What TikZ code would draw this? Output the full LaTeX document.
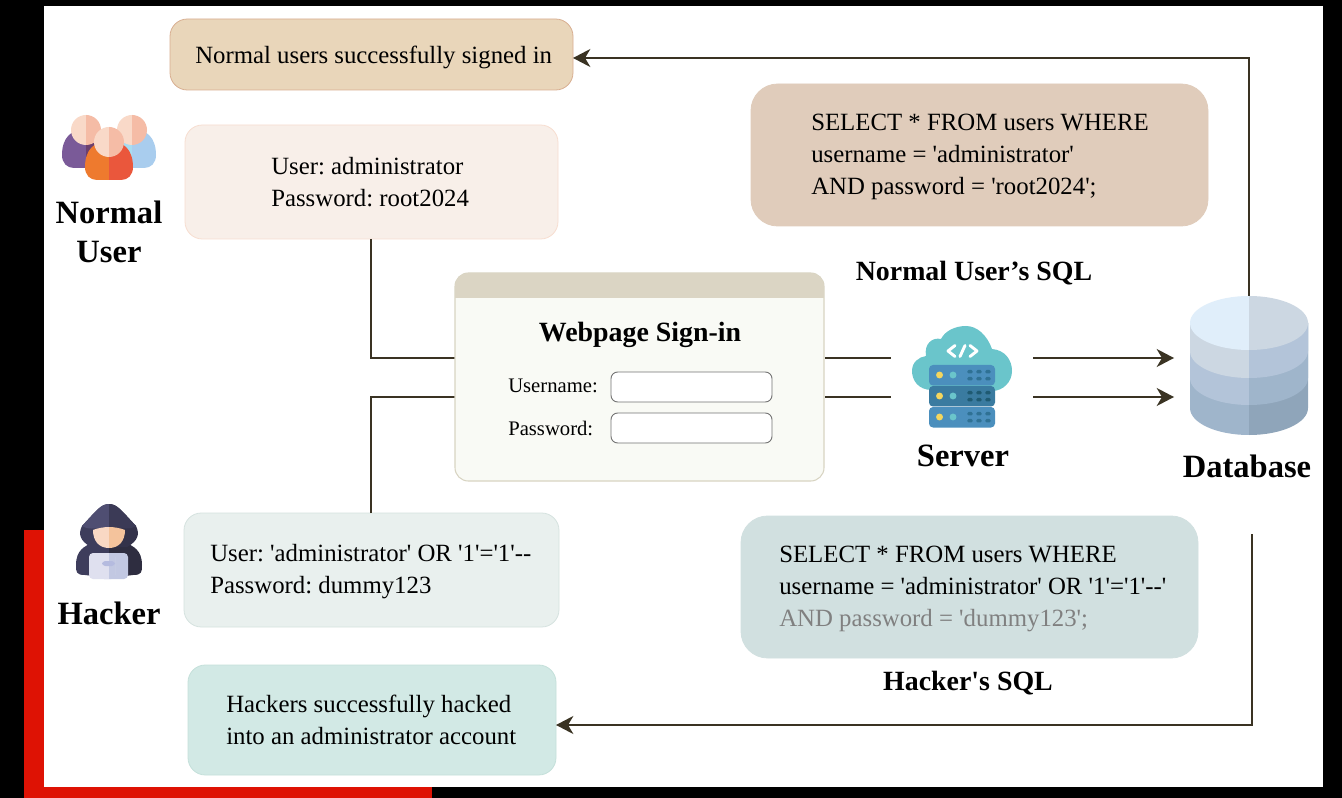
\documentclass[tikz,border=0pt]{standalone}
\usepackage{fontspec}
\setmainfont{Liberation Serif}
\newfontfamily\plainf{Liberation Serif}
\usetikzlibrary{arrows.meta}
\frenchspacing
\definecolor{ink}{HTML}{3A3323}
\definecolor{redb}{HTML}{DE1204}
\makeatletter
\def\hc#1{\definecolor{c#1}{HTML}{#1}}
\@for\tmp:={E9D6BA,D8AE90,F7DDD0,F8EFE9,E0CCBB,D5E2DF,E9F0EE,D1E0E0,C4E0DA,D2E9E5,D8D4C2,F9FAF5,DBD5C4,7A5A98,6B3F6E,A8DCF0,A9CDEE,F9D9C8,F5BCA6,EE7A2E,EA573C,4F4E72,3B3A56,33324A,3E3D5C,2E2D40,F9D8C4,F4C39C,DFE0EF,C2C8E2,B5BBDF,6AC5CB,4B8FBD,2F7194,3A7BA0,1F5A72,F4D65E,9FB5CB,8FA5BA,B3C4D9,CCD7E2,E0EEFA}\do{\expandafter\hc\expandafter{\tmp}}
\makeatother
\tikzset{
 x=0.75pt,y=-0.75pt,
 box/.style={draw=#1,rounded corners=13pt,line width=0.6pt},
 txt/.style={align=left,font=\plainf\fontsize{18.6}{24}\selectfont,inner sep=0,anchor=west,text=black},
 lab/.style={align=center,font=\plainf\fontsize{24.4}{29.5}\selectfont\bfseries,inner sep=0,text=black},
 sql/.style={lab,font=\plainf\fontsize{20.9}{24}\selectfont\bfseries},
 conn/.style={draw=ink,line width=1.5pt},
 arr/.style={conn,-{Stealth[length=13pt,width=13.5pt,inset=4pt]}},
 field/.style={draw=black!55,fill=white,rounded corners=5pt,line width=0.7pt},
 small/.style={txt,font=\plainf\fontsize{15.5}{20}\selectfont},
}
\begin{document}
\begin{tikzpicture}
\useasboundingbox (0,0) rectangle (1342,798);
\fill[black] (0,0) rectangle (1342,798);
\fill[white] (44,6) rectangle (1323,787);
\fill[redb] (24,530) rectangle (44,798);
\fill[redb] (24,787) rectangle (432,798);

% connector coordinates
\coordinate (dbtop) at (1249,296);
\coordinate (dbtopc) at (1249,58);
\coordinate (dbbot) at (1252,534);
\coordinate (dbbotc) at (1252,725);
\coordinate (nc) at (371,358);
\coordinate (hc) at (371,397);
\coordinate (l1) at (825,358);
\coordinate (l2) at (891,358);
\coordinate (l3) at (825,397);
\coordinate (l4) at (891,397);
\coordinate (a1) at (1033,358);
\coordinate (a2) at (1174,358);
\coordinate (a3) at (1033,397);
\coordinate (a4) at (1174,397);

% boxes
\path[box=cD8AE90,fill=cE9D6BA] (170,19) rectangle (573,90);
\coordinate (signedin) at (573,58);
\node[txt] (t1) at (195,57) {Normal users successfully signed in};
\path[box=cF7DDD0,fill=cF8EFE9] (185,125) rectangle (558,239);
\node[txt] (t2) at (271,182) {User: administrator\\Password: root2024};
\path[box=cE0CCBB,fill=cE0CCBB,rounded corners=20pt] (751,84) rectangle (1208,226);
\node[txt] (t3) at (811,156.5) {SELECT * FROM users WHERE\\username = 'administrator'\\AND password = 'root2024';};
\node[sql] (t4) at (974,273) {Normal User’s SQL};
\path[box=cD5E2DF,fill=cE9F0EE] (184,513) rectangle (559,627);
\node[txt] (t5) at (210,571.5) {User: 'administrator' OR '1'='1'--\\Password: dummy123};
\path[box=cD1E0E0,fill=cD1E0E0,rounded corners=20pt] (741,516) rectangle (1198,658);
\node[txt] (t6) at (779,588.5) {SELECT * FROM users WHERE\\username = 'administrator' OR '1'='1'--'\\\textcolor{black!50}{AND password = 'dummy123';}};
\node[sql] (t7) at (968,683) {Hacker's SQL};
\path[box=cC4E0DA,fill=cD2E9E5] (188,665) rectangle (556,775);
\node[txt] (t8) at (226,720) {Hackers successfully hacked\\into an administrator account};

% connectors
\draw[conn] (371,239) -- (nc) -- (456,358);
\draw[conn] (371,513) -- (hc) -- (456,397);
\draw[conn] (l1) -- (l2);
\draw[conn] (l3) -- (l4);
\draw[arr] (a1) -- (a2);
\draw[arr] (a3) -- (a4);
\draw[arr] (dbtop) -- (dbtopc) -- (signedin);
\draw[arr] (dbbot) -- (dbbotc) -- (556,725);

% webpage
\path[draw=cD8D4C2,fill=cF9FAF5,rounded corners=10pt,line width=0.8pt] (455,273) rectangle (824,481);
\begin{scope}
\clip[rounded corners=10pt] (455,273) rectangle (824,400);
\fill[cDBD5C4] (455,273) rectangle (824,298);
\end{scope}
\node[sql] (w) at (640,335) {Webpage Sign-in};
\node[small] (u) at (508,386) {Username:};
\node[small] (p) at (508,428) {Password:};
\path[field] (611,372) rectangle (772,402);
\path[field] (611,413) rectangle (772,443);

% labels
\node[lab] (nu) at (109,232) {Normal\\User};
\node[lab] (hk) at (109,613) {Hacker};
\node[lab] (sv) at (963,455.5) {Server};
\node[lab] (db) at (1247,466.5) {Database};

% users icon
\def\ubody#1#2#3#4#5{\fill[#4] (#1-#3,#2) .. controls (#1-#3,#2-17) and (#1-15,#2-26) .. (#1,#2-26) -- (#1,#2+13) -- (#1-#3+12,#2+13) .. controls (#1-#3+5,#2+13) and (#1-#3,#2+8) .. (#1-#3,#2) -- cycle;
 \fill[#5] (#1+#3,#2) .. controls (#1+#3,#2-17) and (#1+15,#2-26) .. (#1,#2-26) -- (#1,#2+13) -- (#1+#3-12,#2+13) .. controls (#1+#3-5,#2+13) and (#1+#3,#2+8) .. (#1+#3,#2) -- cycle;}
\def\uhead#1#2#3#4#5{\fill[#4] (#1,#2-#3) arc[start angle=90,end angle=270,radius=#3*0.75pt] -- cycle;
 \fill[#5] (#1,#2-#3) arc[start angle=90,end angle=-90,radius=#3*0.75pt] -- cycle;}
\ubody{86}{155}{24}{c7A5A98}{c6B3F6E}
\ubody{132}{155}{24}{cA8DCF0}{cA9CDEE}
\uhead{86}{130}{15}{cF9D9C8}{cF5BCA6}
\uhead{132}{130}{15}{cF9D9C8}{cF5BCA6}
\ubody{109}{167}{24}{cEE7A2E}{cEA573C}
\uhead{109}{142}{15}{cF9D9C8}{cF5BCA6}

% hacker icon
\fill[c3E3D5C] (85,575) .. controls (76,575) and (76,572) .. (76,565) .. controls (76,550) and (85,546) .. (92,543) -- (109,543) -- (109,578) -- cycle;
\fill[c2E2D40] (133,575) .. controls (142,575) and (142,572) .. (142,565) .. controls (142,550) and (133,546) .. (126,543) -- (109,543) -- (109,578) -- cycle;
\fill[c3E3D5C] (109,504) .. controls (101,504) and (97,510) .. (82,526) .. controls (78,534) and (80,541) .. (91,547) -- (109,547) -- cycle;
\fill[c33324A] (109,504) .. controls (117,504) and (121,510) .. (136,526) .. controls (140,534) and (138,541) .. (127,547) -- (109,547) -- cycle;
\fill[c4F4E72] (109,504) .. controls (101,504) and (97,510) .. (82,526) .. controls (90,531) and (100,527) .. (109,527) -- cycle;
\fill[c3B3A56] (109,504) .. controls (117,504) and (121,510) .. (136,526) .. controls (128,531) and (118,527) .. (109,527) -- cycle;
\fill[cF9D8C4] (93,530) .. controls (98,528) and (104,527) .. (109,527) -- (109,548) .. controls (99,548) and (93,541) .. (93,530);
\fill[cF4C39C] (125,530) .. controls (120,528) and (114,527) .. (109,527) -- (109,548) .. controls (119,548) and (125,541) .. (125,530);
\fill[cC2C8E2,rounded corners=3pt] (100,553) rectangle (128,579);
\fill[cDFE0EF,rounded corners=3pt] (89,553) rectangle (115,579);
\fill[cC2C8E2] (109,553) rectangle (115,579);
\fill[cB5BBDF,rounded corners=2.5pt] (102,561) rectangle (115,566);

% server icon
\fill[c6AC5CB] (932,390) .. controls (918,390) and (912,380) .. (912,371) .. controls (912,362) and (919,357) .. (926,356) .. controls (924,344) and (932,337) .. (941,339) .. controls (945,331) and (955,326) .. (966,326) .. controls (977,326) and (987,335) .. (992,349) .. controls (1005,350) and (1012,360) .. (1012,371) .. controls (1012,382) and (1003,391) .. (992,391) -- cycle;
\foreach \yy/\cc/\dd in {365/c4B8FBD/c2F7194,386/c3A7BA0/c1F5A72,407/c4B8FBD/c2F7194}{
 \fill[\cc,rounded corners=3pt] (929,\yy) rectangle (995,\yy+20.5);
 \fill[cF4D65E] (939.5,\yy+10) circle[radius=2.6pt];
 \fill[c6AC5CB] (953,\yy+10) circle[radius=2.6pt];
 \foreach \xx in {970,979,988}{
  \fill[\dd,rounded corners=1pt] (\xx-2.7,\yy+5) rectangle (\xx+2.7,\yy+8.4);
  \fill[\dd,rounded corners=1pt] (\xx-2.7,\yy+12) rectangle (\xx+2.7,\yy+15.4);
 }
}
\draw[white,line width=2.2pt,line cap=round,line join=round] (955,345.5) -- (948,351) -- (955,356.5);
\draw[white,line width=2.2pt,line cap=round,line join=round] (970,345.5) -- (977,351) -- (970,356.5);
\draw[white,line width=2.2pt,line cap=round] (965,345.5) -- (960,356.5);

% database icon
\def\dbcyl#1#2#3{\fill[#2] (1190,323) -- (1190,#1) arc[start angle=180,end angle=270,x radius=44.25pt,y radius=20.25pt] -- (1249,323) -- cycle;
 \fill[#3] (1308,323) -- (1308,#1) arc[start angle=0,end angle=-90,x radius=44.25pt,y radius=20.25pt] -- (1249,323) -- cycle;}
\dbcyl{408}{c9FB5CB}{c8FA5BA}
\dbcyl{378}{cB3C4D9}{c9FB5CB}
\dbcyl{351}{cCCD7E2}{cB3C4D9}
\fill[cE0EEFA] (1249,296) arc[start angle=90,end angle=270,x radius=44.25pt,y radius=20.25pt] -- cycle;
\fill[cCCD7E2] (1249,296) arc[start angle=90,end angle=-90,x radius=44.25pt,y radius=20.25pt] -- cycle;
\end{tikzpicture}
\end{document}
